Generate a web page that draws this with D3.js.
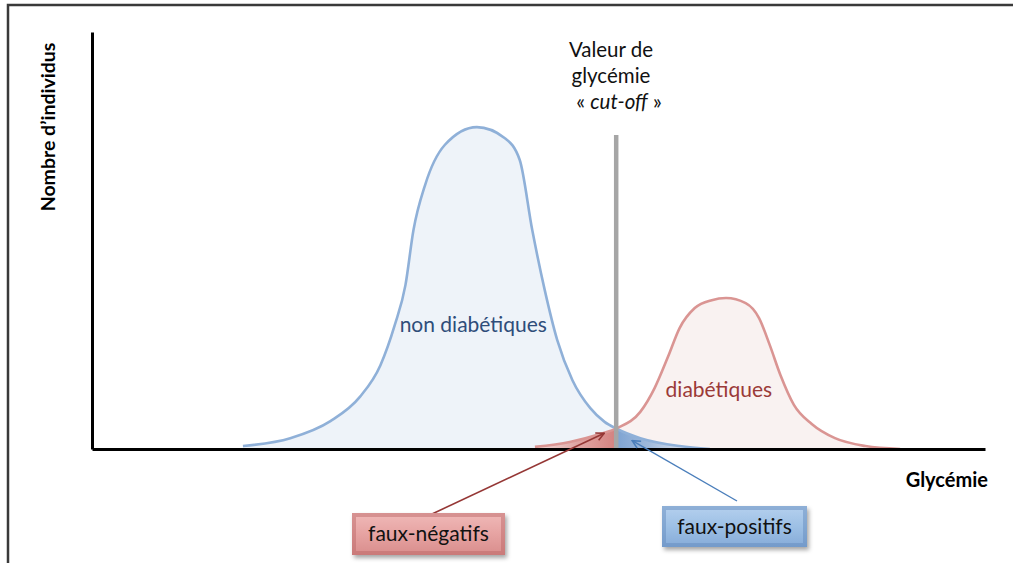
<!DOCTYPE html>
<html>
<head>
<meta charset="utf-8">
<script src="https://cdn.jsdelivr.net/npm/d3@7"></script>
<style>
  body { margin: 0; background: #fff; }
  svg { display: block; font-family: Lato, "Open Sans", sans-serif; }
</style>
</head>
<body>
<div id="chart"></div>
<script>
// glycaemia (arbitrary units) and number of individuals (arbitrary units)
const nonDiabGly = [16.9, 22.2, 26.7, 30.0, 32.3, 33.9, 35.1, 36.0, 37.3, 39.5, 43.1, 46.2, 47.9, 49.3, 50.7, 52.1, 53.8, 55.8, 57.4, 58.8, 61.4, 65.8, 69.2];
const nonDiabCount = [0.7, 2.6, 6.7, 12.5, 20.1, 29.7, 39.3, 52.5, 63.3, 72.9, 77.2, 74.6, 69.3, 52.5, 38.1, 26.1, 16.5, 9.8, 6.5, 4.8, 2.6, 0.7, 0];
const diabGly = [49.6, 53.5, 56.9, 58.8, 61.4, 63.0, 64.5, 65.8, 67.5, 69.4, 71.0, 73.2, 74.7, 75.9, 77.1, 78.6, 80.6, 83.2, 86.6, 90.5];
const diabCount = [0.5, 1.7, 3.6, 5.0, 8.9, 14.6, 22.1, 29.0, 33.8, 35.7, 36.2, 35.0, 31.4, 24.9, 17.7, 10.6, 6.0, 2.6, 0.7, 0];
const cutoff = 58.7;

const W = 1013, H = 563;
const margin = {top: 32, right: 28, bottom: 114, left: 92};
const width = W - margin.left - margin.right;
const height = H - margin.top - margin.bottom;

const nonDiab = nonDiabGly.map((g, i) => ({g: g, n: nonDiabCount[i]}));
const diab = diabGly.map((g, i) => ({g: g, n: diabCount[i]}));

const x = d3.scaleLinear().domain([0, 100]).range([0, width]);
const y = d3.scaleLinear().domain([0, 100]).range([height, 0]);

const svg = d3.select('#chart').append('svg')
    .attr('width', W)
    .attr('height', H);

// frame of the original picture
svg.append('path')
    .attr('d', 'M8,' + H + 'V5H' + W)
    .attr('fill', 'none')
    .attr('stroke', '#3a3a3a')
    .attr('stroke-width', 2.5);

const defs = svg.append('defs');

// horizontal gradient in data space (between two glycaemia values)
function hGrad(id, g0, g1, stops) {
    const g = defs.append('linearGradient').attr('id', id)
        .attr('gradientUnits', 'userSpaceOnUse')
        .attr('x1', x(g0)).attr('x2', x(g1)).attr('y1', 0).attr('y2', 0);
    stops.forEach(s => g.append('stop').attr('offset', s[0]).attr('stop-color', s[1]).attr('stop-opacity', s[2]));
}
function vGrad(id, stops) {
    const g = defs.append('linearGradient').attr('id', id)
        .attr('x1', '0').attr('x2', '0').attr('y1', '0').attr('y2', '1');
    stops.forEach(s => g.append('stop').attr('offset', s[0]).attr('stop-color', s[1]));
}
hGrad('fnGrad', diabGly[0], cutoff, [[0, '#e3aaa8', 0.3], [0.5, '#dc9a98', 0.85], [1, '#d4817f', 1]]);
hGrad('fpGrad', cutoff, nonDiabGly[nonDiabGly.length - 1], [[0, '#7ea3d2', 1], [0.35, '#8fafd7', 0.85], [1, '#b3c9e5', 0.1]]);
vGrad('boxRed', [[0, '#f0b9b8'], [0.5, '#e6a3a2'], [1, '#d98d8c']]);
vGrad('boxBlue', [[0, '#b5d0ee'], [0.5, '#9dc0e5'], [1, '#86abd8']]);

const filter = defs.append('filter').attr('id', 'shadow')
    .attr('x', '-10%').attr('y', '-10%').attr('width', '130%').attr('height', '150%');
filter.append('feDropShadow')
    .attr('dx', 2).attr('dy', 3).attr('stdDeviation', 2)
    .attr('flood-color', '#000').attr('flood-opacity', 0.35);

['red', 'blue'].forEach(c => {
    defs.append('marker')
        .attr('id', 'arrow-' + c)
        .attr('viewBox', '0 0 10 10')
        .attr('refX', 9).attr('refY', 5)
        .attr('markerWidth', 10).attr('markerHeight', 10)
        .attr('markerUnits', 'userSpaceOnUse')
        .attr('orient', 'auto')
        .append('path')
        .attr('d', 'M1,1L9,5L1,9')
        .attr('fill', 'none')
        .attr('stroke', c === 'red' ? '#953735' : '#4a7ebb')
        .attr('stroke-width', 1.6);
});

const g = svg.append('g')
    .attr('transform', 'translate(' + margin.left + ',' + margin.top + ')');

defs.append('clipPath').attr('id', 'leftCut').append('rect')
    .attr('x', 0).attr('y', 0).attr('width', x(cutoff)).attr('height', height);
defs.append('clipPath').attr('id', 'rightCut').append('rect')
    .attr('x', x(cutoff)).attr('y', 0).attr('width', width - x(cutoff)).attr('height', height);

const area = d3.area()
    .x(d => x(d.g))
    .y0(height)
    .y1(d => y(d.n))
    .curve(d3.curveMonotoneX);

const line = d3.line()
    .x(d => x(d.g))
    .y(d => y(d.n))
    .curve(d3.curveMonotoneX);

// ... light fills
g.append('path').datum(nonDiab)
    .attr('d', area)
    .attr('fill', '#eef3f9');
g.append('path').datum(diab)
    .attr('d', area)
    .attr('fill', '#f9f2f1');

// ... false negatives / false positives
g.append('path').datum(diab)
    .attr('d', area)
    .attr('clip-path', 'url(#leftCut)')
    .attr('fill', 'url(#fnGrad)');
g.append('path').datum(nonDiab)
    .attr('d', area)
    .attr('clip-path', 'url(#rightCut)')
    .attr('fill', 'url(#fpGrad)');

// ... curves
g.append('path').datum(nonDiab)
    .attr('d', line)
    .attr('fill', 'none')
    .attr('stroke', '#8fb0d8')
    .attr('stroke-width', 2.6);
g.append('path').datum(diab)
    .attr('d', line)
    .attr('fill', 'none')
    .attr('stroke', '#da9593')
    .attr('stroke-width', 2.6);

// ... cut-off line
g.append('line')
    .attr('x1', x(cutoff)).attr('x2', x(cutoff))
    .attr('y1', y(75.3)).attr('y2', height)
    .attr('stroke', '#a6a6a6')
    .attr('stroke-width', 4.5);

// ... axes
g.append('g')
    .call(d3.axisLeft(y).ticks(0).tickSizeOuter(0))
    .call(a => a.select('.domain').attr('stroke', '#000').attr('stroke-width', 3));
g.append('g')
    .attr('transform', 'translate(0,' + height + ')')
    .call(d3.axisBottom(x).ticks(0).tickSizeOuter(0))
    .call(a => a.select('.domain').attr('stroke', '#000').attr('stroke-width', 3));

// ... texts
svg.append('text')
    .attr('transform', 'translate(55,127) rotate(-90)')
    .attr('text-anchor', 'middle')
    .attr('font-weight', 'bold')
    .attr('font-size', 19.5)
    .text('Nombre d\u2019individus');

svg.append('text')
    .attr('x', 988).attr('y', 487)
    .attr('text-anchor', 'end')
    .attr('font-weight', 'bold')
    .attr('font-size', 20)
    .text('Glycémie');

const cutLabel = svg.append('text')
    .attr('text-anchor', 'middle')
    .attr('font-size', 20.5)
    .attr('fill', '#111');
cutLabel.append('tspan').attr('x', 611).attr('y', 57).text('Valeur de');
cutLabel.append('tspan').attr('x', 611).attr('y', 83).text('glycémie');
const l3 = cutLabel.append('tspan').attr('x', 619).attr('y', 109);
l3.append('tspan').text('« ');
l3.append('tspan').attr('font-style', 'italic').text('cut-off');
l3.append('tspan').text(' »');

g.append('text')
    .attr('x', x(42.7)).attr('y', y(28.0))
    .attr('text-anchor', 'middle')
    .attr('font-size', 21)
    .attr('fill', '#2e4d7a')
    .text('non diabétiques');

g.append('text')
    .attr('x', x(70.2)).attr('y', y(12.4))
    .attr('text-anchor', 'middle')
    .attr('font-size', 21)
    .attr('fill', '#9b3a38')
    .text('diabétiques');

// ... arrows
svg.append('line')
    .attr('x1', 432).attr('y1', 514)
    .attr('x2', margin.left + x(cutoff) - 12).attr('y2', margin.top + y(3.8))
    .attr('stroke', '#953735').attr('stroke-width', 1.6)
    .attr('marker-end', 'url(#arrow-red)');
svg.append('line')
    .attr('x1', 737).attr('y1', 501)
    .attr('x2', margin.left + x(cutoff) + 16).attr('y2', margin.top + y(2.0))
    .attr('stroke', '#4a7ebb').attr('stroke-width', 1.4)
    .attr('marker-end', 'url(#arrow-blue)');

// ... boxes
function box(x0, y0, w, h, fill, edge, label) {
    const b = svg.append('g').attr('transform', 'translate(' + x0 + ',' + y0 + ')');
    b.append('rect').attr('width', w).attr('height', h)
        .attr('fill', fill).attr('filter', 'url(#shadow)');
    b.append('rect').attr('x', 2).attr('y', 2).attr('width', w - 4).attr('height', h - 4)
        .attr('fill', 'none').attr('stroke', edge).attr('stroke-width', 4).attr('stroke-opacity', 0.45);
    b.append('text')
        .attr('x', w / 2).attr('y', h / 2 + 7)
        .attr('text-anchor', 'middle')
        .attr('font-size', 21)
        .attr('fill', '#111')
        .text(label);
}
box(352, 513, 153, 42, 'url(#boxRed)', '#b86463', 'faux-négatifs');
box(662, 506, 145, 41, 'url(#boxBlue)', '#5f87bb', 'faux-positifs');
</script>
</body>
</html>
